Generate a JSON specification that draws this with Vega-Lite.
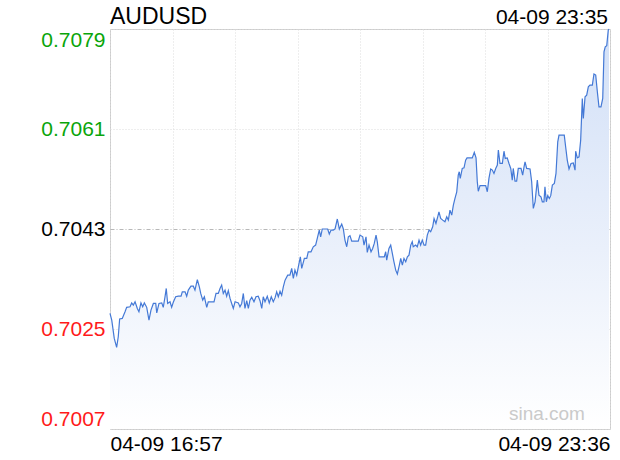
{
  "$schema": "https://vega.github.io/schema/vega-lite/v6.json",
  "width": 500,
  "height": 400,
  "autosize": {"type": "none"},
  "padding": {"left": 110, "top": 29, "right": 10, "bottom": 31},
  "background": "white",
  "config": {
    "font": "Liberation Sans",
    "view": {"stroke": "#cccccc", "strokeWidth": 1},
    "axis": {"labelColor": "#000000", "labelOpacity": 1}
  },
  "data": {
    "values": [
      {"t": 0, "p": 0.70278}, {"t": 1.4, "p": 0.70266}, {"t": 3.4, "p": 0.70233}, {"t": 5.3, "p": 0.70217},
      {"t": 6.6, "p": 0.70236}, {"t": 7.7, "p": 0.70268}, {"t": 9.8, "p": 0.70269}, {"t": 12.0, "p": 0.70281},
      {"t": 13.3, "p": 0.70289}, {"t": 16.0, "p": 0.70290}, {"t": 17.3, "p": 0.70297}, {"t": 18.6, "p": 0.70293},
      {"t": 20.0, "p": 0.70299}, {"t": 21.8, "p": 0.70287}, {"t": 23.1, "p": 0.70281}, {"t": 24.7, "p": 0.70297},
      {"t": 26.1, "p": 0.70290}, {"t": 27.4, "p": 0.70297}, {"t": 29.3, "p": 0.70289}, {"t": 31.1, "p": 0.70266},
      {"t": 32.7, "p": 0.70284}, {"t": 34.6, "p": 0.70296}, {"t": 36.5, "p": 0.70296}, {"t": 37.3, "p": 0.70279},
      {"t": 39.1, "p": 0.70296}, {"t": 41.3, "p": 0.70297}, {"t": 42.5, "p": 0.70289}, {"t": 43.9, "p": 0.70308},
      {"t": 44.9, "p": 0.70323}, {"t": 46.0, "p": 0.70296}, {"t": 47.9, "p": 0.70299}, {"t": 49.2, "p": 0.70289},
      {"t": 50.5, "p": 0.70298}, {"t": 52.4, "p": 0.70308}, {"t": 54.5, "p": 0.70309}, {"t": 56.7, "p": 0.70309},
      {"t": 57.7, "p": 0.70317}, {"t": 59.9, "p": 0.70317}, {"t": 61.2, "p": 0.70309}, {"t": 62.5, "p": 0.70320},
      {"t": 64.6, "p": 0.70327}, {"t": 66.5, "p": 0.70327}, {"t": 67.8, "p": 0.70320}, {"t": 69.7, "p": 0.70339},
      {"t": 71.3, "p": 0.70326}, {"t": 72.4, "p": 0.70314}, {"t": 74.0, "p": 0.70302}, {"t": 75.3, "p": 0.70308},
      {"t": 77.2, "p": 0.70289}, {"t": 78.4, "p": 0.70299}, {"t": 81.2, "p": 0.70299}, {"t": 83.0, "p": 0.70299},
      {"t": 84.6, "p": 0.70314}, {"t": 86.4, "p": 0.70314}, {"t": 87.8, "p": 0.70323}, {"t": 89.1, "p": 0.70329},
      {"t": 90.4, "p": 0.70314}, {"t": 91.8, "p": 0.70320}, {"t": 93.1, "p": 0.70309}, {"t": 94.4, "p": 0.70319},
      {"t": 95.8, "p": 0.70305}, {"t": 97.1, "p": 0.70296}, {"t": 98.4, "p": 0.70287}, {"t": 99.8, "p": 0.70299},
      {"t": 102.4, "p": 0.70297}, {"t": 103.7, "p": 0.70290}, {"t": 105.1, "p": 0.70296}, {"t": 106.4, "p": 0.70314},
      {"t": 107.7, "p": 0.70287}, {"t": 109.1, "p": 0.70301}, {"t": 110.4, "p": 0.70287}, {"t": 111.7, "p": 0.70302},
      {"t": 113.1, "p": 0.70307}, {"t": 114.9, "p": 0.70299}, {"t": 116.5, "p": 0.70308}, {"t": 118.3, "p": 0.70309},
      {"t": 119.7, "p": 0.70301}, {"t": 121.1, "p": 0.70287}, {"t": 122.3, "p": 0.70308}, {"t": 123.7, "p": 0.70299},
      {"t": 125.5, "p": 0.70309}, {"t": 127.1, "p": 0.70297}, {"t": 128.7, "p": 0.70308}, {"t": 130.3, "p": 0.70299},
      {"t": 131.7, "p": 0.70306}, {"t": 133.0, "p": 0.70317}, {"t": 134.3, "p": 0.70308}, {"t": 135.7, "p": 0.70318},
      {"t": 137.0, "p": 0.70311}, {"t": 138.3, "p": 0.70326}, {"t": 139.7, "p": 0.70338}, {"t": 141.8, "p": 0.70347},
      {"t": 143.6, "p": 0.70347}, {"t": 145.0, "p": 0.70359}, {"t": 146.3, "p": 0.70341}, {"t": 147.6, "p": 0.70356},
      {"t": 149.0, "p": 0.70347}, {"t": 150.3, "p": 0.70362}, {"t": 151.9, "p": 0.70380}, {"t": 153.0, "p": 0.70359},
      {"t": 155.1, "p": 0.70377}, {"t": 157.0, "p": 0.70377}, {"t": 158.2, "p": 0.70389}, {"t": 160.4, "p": 0.70389},
      {"t": 162.2, "p": 0.70398}, {"t": 164.1, "p": 0.70401}, {"t": 165.7, "p": 0.70416}, {"t": 167.0, "p": 0.70428},
      {"t": 168.1, "p": 0.70416}, {"t": 169.4, "p": 0.70430}, {"t": 171.6, "p": 0.70430}, {"t": 173.7, "p": 0.70430},
      {"t": 175.0, "p": 0.70421}, {"t": 176.4, "p": 0.70428}, {"t": 178.2, "p": 0.70428}, {"t": 179.6, "p": 0.70430},
      {"t": 181.4, "p": 0.70448}, {"t": 183.0, "p": 0.70430}, {"t": 184.9, "p": 0.70439}, {"t": 186.2, "p": 0.70430},
      {"t": 187.5, "p": 0.70410}, {"t": 188.9, "p": 0.70398}, {"t": 190.2, "p": 0.70416}, {"t": 191.5, "p": 0.70418},
      {"t": 192.9, "p": 0.70408}, {"t": 195.5, "p": 0.70408}, {"t": 198.1, "p": 0.70408}, {"t": 199.5, "p": 0.70419},
      {"t": 201.7, "p": 0.70416}, {"t": 202.7, "p": 0.70401}, {"t": 204.3, "p": 0.70416}, {"t": 205.3, "p": 0.70388},
      {"t": 206.7, "p": 0.70401}, {"t": 208.3, "p": 0.70389}, {"t": 209.6, "p": 0.70395}, {"t": 210.9, "p": 0.70404},
      {"t": 212.3, "p": 0.70419}, {"t": 213.3, "p": 0.70407}, {"t": 214.7, "p": 0.70380}, {"t": 216.8, "p": 0.70380},
      {"t": 218.9, "p": 0.70380}, {"t": 220.0, "p": 0.70389}, {"t": 220.8, "p": 0.70374}, {"t": 222.6, "p": 0.70395},
      {"t": 224.0, "p": 0.70401}, {"t": 225.3, "p": 0.70386}, {"t": 226.6, "p": 0.70371}, {"t": 228.0, "p": 0.70356},
      {"t": 229.3, "p": 0.70349}, {"t": 230.9, "p": 0.70365}, {"t": 232.0, "p": 0.70377}, {"t": 233.3, "p": 0.70365},
      {"t": 234.6, "p": 0.70377}, {"t": 236.0, "p": 0.70371}, {"t": 237.3, "p": 0.70380}, {"t": 238.6, "p": 0.70383},
      {"t": 240.0, "p": 0.70401}, {"t": 241.2, "p": 0.70407}, {"t": 242.0, "p": 0.70398}, {"t": 243.9, "p": 0.70401},
      {"t": 245.2, "p": 0.70398}, {"t": 246.6, "p": 0.70410}, {"t": 247.9, "p": 0.70401}, {"t": 249.2, "p": 0.70410},
      {"t": 250.6, "p": 0.70401}, {"t": 251.9, "p": 0.70401}, {"t": 253.2, "p": 0.70419}, {"t": 254.6, "p": 0.70428},
      {"t": 255.9, "p": 0.70425}, {"t": 257.5, "p": 0.70434}, {"t": 258.6, "p": 0.70449}, {"t": 260.1, "p": 0.70440},
      {"t": 261.5, "p": 0.70452}, {"t": 262.5, "p": 0.70461}, {"t": 263.9, "p": 0.70449}, {"t": 265.5, "p": 0.70446},
      {"t": 267.3, "p": 0.70443}, {"t": 268.7, "p": 0.70452}, {"t": 270.0, "p": 0.70446}, {"t": 271.3, "p": 0.70464},
      {"t": 272.7, "p": 0.70455}, {"t": 274.0, "p": 0.70473}, {"t": 275.3, "p": 0.70485}, {"t": 276.7, "p": 0.70497},
      {"t": 277.9, "p": 0.70527}, {"t": 278.7, "p": 0.70533}, {"t": 279.5, "p": 0.70521}, {"t": 281.1, "p": 0.70539},
      {"t": 282.5, "p": 0.70540}, {"t": 283.8, "p": 0.70554}, {"t": 284.9, "p": 0.70558}, {"t": 287.3, "p": 0.70558},
      {"t": 289.1, "p": 0.70558}, {"t": 290.7, "p": 0.70568}, {"t": 292.1, "p": 0.70558}, {"t": 293.1, "p": 0.70515},
      {"t": 293.9, "p": 0.70498}, {"t": 295.3, "p": 0.70508}, {"t": 297.9, "p": 0.70508}, {"t": 299.8, "p": 0.70508},
      {"t": 301.1, "p": 0.70497}, {"t": 302.4, "p": 0.70521}, {"t": 303.8, "p": 0.70538}, {"t": 305.1, "p": 0.70536},
      {"t": 306.4, "p": 0.70530}, {"t": 307.8, "p": 0.70539}, {"t": 309.1, "p": 0.70545}, {"t": 309.9, "p": 0.70572},
      {"t": 311.2, "p": 0.70548}, {"t": 313.1, "p": 0.70548}, {"t": 314.4, "p": 0.70570}, {"t": 315.4, "p": 0.70557},
      {"t": 317.0, "p": 0.70558}, {"t": 318.4, "p": 0.70548}, {"t": 319.8, "p": 0.70539}, {"t": 321.0, "p": 0.70518},
      {"t": 321.8, "p": 0.70539}, {"t": 323.2, "p": 0.70516}, {"t": 324.5, "p": 0.70516}, {"t": 325.8, "p": 0.70539},
      {"t": 328.0, "p": 0.70539}, {"t": 329.3, "p": 0.70527}, {"t": 330.4, "p": 0.70542}, {"t": 331.2, "p": 0.70551},
      {"t": 332.5, "p": 0.70539}, {"t": 335.2, "p": 0.70538}, {"t": 336.5, "p": 0.70515}, {"t": 337.8, "p": 0.70467},
      {"t": 339.2, "p": 0.70479}, {"t": 341.0, "p": 0.70518}, {"t": 342.3, "p": 0.70491}, {"t": 343.9, "p": 0.70488},
      {"t": 345.0, "p": 0.70479}, {"t": 346.3, "p": 0.70479}, {"t": 347.1, "p": 0.70506}, {"t": 348.2, "p": 0.70479},
      {"t": 349.3, "p": 0.70490}, {"t": 350.6, "p": 0.70485}, {"t": 351.7, "p": 0.70490}, {"t": 353.0, "p": 0.70509},
      {"t": 354.6, "p": 0.70512}, {"t": 355.9, "p": 0.70530}, {"t": 357.3, "p": 0.70587}, {"t": 358.3, "p": 0.70599},
      {"t": 360.5, "p": 0.70599}, {"t": 362.5, "p": 0.70599}, {"t": 363.6, "p": 0.70578}, {"t": 364.9, "p": 0.70554},
      {"t": 366.3, "p": 0.70538}, {"t": 367.9, "p": 0.70548}, {"t": 369.7, "p": 0.70549}, {"t": 371.1, "p": 0.70536},
      {"t": 371.6, "p": 0.70570}, {"t": 372.9, "p": 0.70558}, {"t": 374.3, "p": 0.70560}, {"t": 375.6, "p": 0.70590},
      {"t": 376.9, "p": 0.70665}, {"t": 377.7, "p": 0.70629}, {"t": 379.1, "p": 0.70668}, {"t": 380.4, "p": 0.70671},
      {"t": 381.7, "p": 0.70686}, {"t": 383.0, "p": 0.70689}, {"t": 384.9, "p": 0.70689}, {"t": 386.2, "p": 0.70709},
      {"t": 387.6, "p": 0.70707}, {"t": 388.9, "p": 0.70677}, {"t": 390.2, "p": 0.70650}, {"t": 391.8, "p": 0.70650},
      {"t": 393.2, "p": 0.70665}, {"t": 394.2, "p": 0.70749}, {"t": 395.2, "p": 0.70758}, {"t": 396.4, "p": 0.70760},
      {"t": 397.6, "p": 0.70788}, {"t": 398.2, "p": 0.70790}
    ]
  },
  "layer": [
    {
      "mark": {
        "type": "area",
        "interpolate": "linear",
        "opacity": 1,
        "fill": {
          "gradient": "linear",
          "x1": 0, "y1": 1, "x2": 0, "y2": 0,
          "stops": [
            {"offset": 0, "color": "#ffffff"},
            {"offset": 0.45, "color": "#eaf0fb"},
            {"offset": 1, "color": "#d2e0f7"}
          ]
        }
      },
      "encoding": {
        "x": {
          "field": "t",
          "type": "quantitative",
          "scale": {"domain": [0, 399], "nice": false, "zero": false},
          "axis": {
            "title": null,
            "values": [0, 49.875, 99.75, 149.625, 199.5, 249.375, 299.25, 349.125, 399],
            "grid": true,
            "gridColor": "#dddddd",
            "gridDash": [1, 2],
            "gridWidth": 1,
            "domain": false,
            "ticks": false,
            "labelExpr": "datum.value == 0 ? '04-09 16:57' : (datum.value == 399 ? '04-09 23:36' : '')",
            "labelFlush": true,
            "labelOverlap": false,
            "labelFont": "Liberation Sans",
            "labelFontSize": 21,
            "labelColor": "#000000",
            "labelPadding": 4
          }
        },
        "y": {
          "field": "p",
          "type": "quantitative",
          "scale": {"domain": [0.7007, 0.7079], "nice": false, "zero": false},
          "axis": {
            "title": null,
            "values": [0.7007, 0.7025, 0.7043, 0.7061, 0.7079],
            "format": ".4f",
            "grid": true,
            "gridColor": {"condition": {"test": "abs(datum.value - 0.7043) < 0.00001", "value": "#b8b8b8"}, "value": "#dddddd"},
            "gridDash": {"condition": {"test": "abs(datum.value - 0.7043) < 0.00001", "value": [4, 2, 1, 2]}, "value": [1, 2]},
            "domain": false,
            "ticks": false,
            "labelFlush": true,
            "labelOverlap": false,
            "labelFont": "Liberation Sans",
            "labelFontSize": 21,
            "labelPadding": 5,
            "labelColor": {
              "condition": [
                {"test": "datum.value > 0.7044", "value": "#0aa50a"},
                {"test": "datum.value < 0.7042", "value": "#ff1a1a"}
              ],
              "value": "#000000"
            }
          }
        },
        "y2": {"datum": 0.7007}
      }
    },
    {
      "mark": {"type": "line", "interpolate": "linear", "color": "#4479d6", "strokeWidth": 1.2},
      "encoding": {
        "x": {"field": "t", "type": "quantitative"},
        "y": {"field": "p", "type": "quantitative"}
      }
    },
    {
      "data": {"values": [{"t": 399, "p": 0.7079, "label": "04-09 23:35"}]},
      "mark": {"type": "text", "align": "right", "baseline": "alphabetic", "dy": -5, "dx": -2, "fontSize": 21, "font": "Liberation Sans", "color": "#000000"},
      "encoding": {
        "x": {"field": "t", "type": "quantitative"},
        "y": {"field": "p", "type": "quantitative"},
        "text": {"field": "label"}
      }
    },
    {
      "data": {"values": [{"t": 0, "p": 0.7079, "label": "AUDUSD"}]},
      "mark": {"type": "text", "align": "left", "baseline": "alphabetic", "dy": -5, "dx": 0, "fontSize": 23, "font": "Liberation Sans", "color": "#000000"},
      "encoding": {
        "x": {"field": "t", "type": "quantitative"},
        "y": {"field": "p", "type": "quantitative"},
        "text": {"field": "label"}
      }
    },
    {
      "data": {"values": [{"t": 379, "p": 0.70086, "label": "sina.com"}]},
      "mark": {"type": "text", "align": "right", "baseline": "alphabetic", "fontSize": 19, "font": "Liberation Sans", "color": "#cacaca"},
      "encoding": {
        "x": {"field": "t", "type": "quantitative"},
        "y": {"field": "p", "type": "quantitative"},
        "text": {"field": "label"}
      }
    }
  ]
}
